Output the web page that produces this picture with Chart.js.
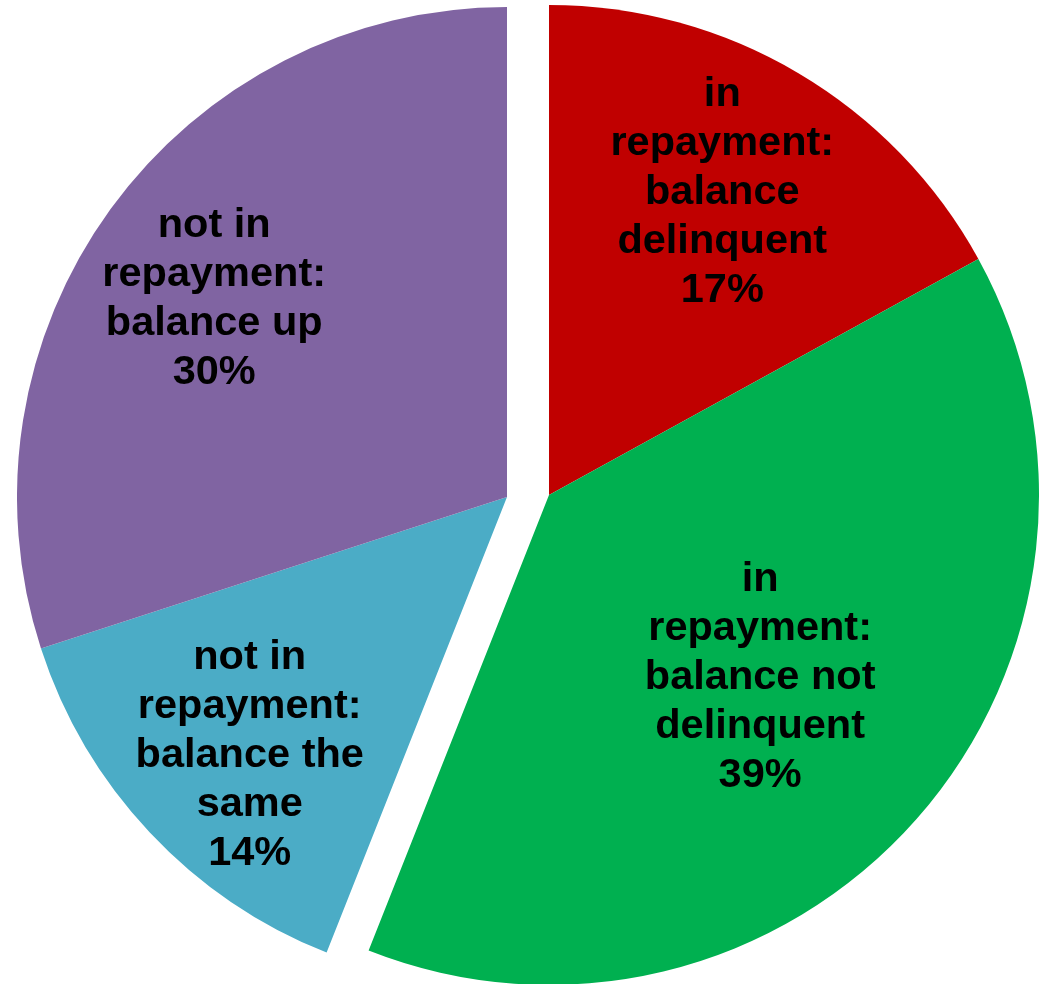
<!DOCTYPE html>
<html>
<head>
<meta charset="utf-8">
<script src="https://cdn.jsdelivr.net/npm/chart.js@4"></script>
<style>
  html, body { margin: 0; padding: 0; background: #fff; overflow: hidden; }
  body { width: 1045px; height: 984px; position: relative; }
  .pie-box { position: absolute; width: 980px; height: 980px; }
</style>
</head>
<body>
<div class="pie-box" id="box-left" style="left:17px; top:7px;"><canvas id="pie-left"></canvas></div>
<div class="pie-box" id="box-right" style="left:59px; top:5px;"><canvas id="pie-right"></canvas></div>
<script>
// slice labels, one entry per line of text
const categories = [
  ["in", "repayment:", "balance", "delinquent"],
  ["in", "repayment:", "balance not", "delinquent"],
  ["not in", "repayment:", "balance the", "same"],
  ["not in", "repayment:", "balance up"],
];
const shares = [17, 39, 14, 30];
const colors = ["#C00000", "#00B050", "#4BACC6", "#8064A2"];
// which slices belong to the "in repayment" half
const inRepayment = [true, true, false, false];

// label placement: fraction of radius along the bisector, and a small turn (degrees)
const labelDepth = [0.716, 0.565, 0.74, 0.725];
const labelTurn = [-1, -1.1, -1.6, -1.5];

const sliceLabels = {
  id: "sliceLabels",
  afterDatasetsDraw(chart, args, opts) {
    const ctx = chart.ctx;
    const arcs = chart.getDatasetMeta(0).data;
    ctx.save();
    ctx.fillStyle = "#000";
    ctx.font = "bold 41.5px 'Liberation Sans', Arial, sans-serif";
    ctx.textAlign = "center";
    ctx.textBaseline = "middle";
    arcs.forEach((arc, i) => {
      if (inRepayment[i] !== opts.right) return;
      const p = arc.getProps(["x", "y", "startAngle", "endAngle", "outerRadius"], true);
      const mid = (p.startAngle + p.endAngle) / 2 + labelTurn[i] * Math.PI / 180;
      const cx = p.x + Math.cos(mid) * p.outerRadius * labelDepth[i];
      const cy = p.y + Math.sin(mid) * p.outerRadius * labelDepth[i] + 3;
      const lines = categories[i].concat(shares[i] + "%");
      const lh = 49;
      const y0 = cy - (lines.length - 1) * lh / 2;
      lines.forEach((t, k) => ctx.fillText(t, cx, y0 + k * lh));
    });
    ctx.restore();
  }
};

function makePie(id, right) {
  return new Chart(document.getElementById(id), {
    type: "pie",
    data: {
      labels: categories.map(c => c.join(" ")),
      datasets: [{
        data: shares,
        backgroundColor: colors.map((c, i) => inRepayment[i] === right ? c : "rgba(0,0,0,0)"),
        borderWidth: 0,
      }]
    },
    options: {
      responsive: true,
      maintainAspectRatio: false,
      animation: false,
      radius: 490,
      layout: { padding: 0 },
      plugins: {
        legend: { display: false },
        tooltip: { enabled: false },
        sliceLabels: { right },
      }
    },
    plugins: [sliceLabels]
  });
}

makePie("pie-left", false);
makePie("pie-right", true);
</script>
</body>
</html>
